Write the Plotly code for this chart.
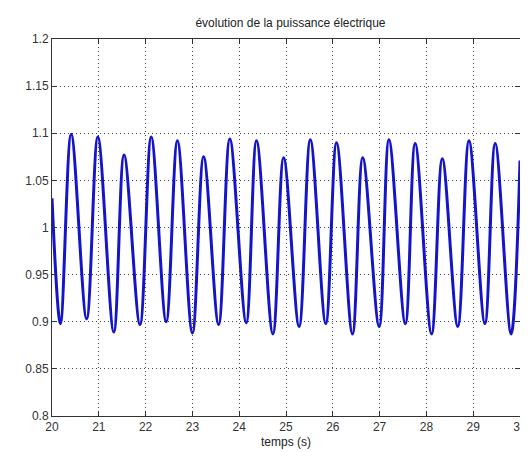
import plotly.graph_objects as go

# Key points (time in s, electrical power p.u.)
temps = [20.00, 20.18, 20.41, 20.74, 20.98, 21.32, 21.54, 21.88, 22.12, 22.44,
         22.68, 23.00, 23.24, 23.56, 23.80, 24.15, 24.37, 24.72, 24.95, 25.28,
         25.52, 25.85, 26.08, 26.42, 26.64, 26.99, 27.20, 27.55, 27.76, 28.11,
         28.34, 28.67, 28.91, 29.25, 29.47, 29.81, 30.00]
puissance = [1.031, 0.898, 1.099, 0.903, 1.096, 0.889, 1.077, 0.897, 1.096, 0.900,
             1.092, 0.888, 1.075, 0.897, 1.094, 0.899, 1.092, 0.887, 1.074, 0.895,
             1.093, 0.898, 1.090, 0.887, 1.074, 0.895, 1.093, 0.898, 1.089, 0.887,
             1.073, 0.895, 1.092, 0.898, 1.089, 0.887, 1.071]

x_ticks = [20, 21, 22, 23, 24, 25, 26, 27, 28, 29, 30]
y_ticks = [0.8, 0.85, 0.9, 0.95, 1.0, 1.05, 1.1, 1.15, 1.2]
y_tick_labels = ["0.8", "0.85", "0.9", "0.95", "1", "1.05", "1.1", "1.15", "1.2"]

font = "Liberation Sans, Arial, sans-serif"

fig = go.Figure()
fig.add_trace(go.Scatter(
    x=temps, y=puissance, mode="lines",
    line=dict(color="#1414c8", width=3, shape="spline", smoothing=1.0),
    showlegend=False, hoverinfo="skip",
))

axis_common = dict(
    showline=True, linecolor="#333333", linewidth=1, mirror="ticks",
    ticks="inside", ticklen=5, tickcolor="#333333",
    showgrid=True, gridcolor="#444444", griddash="1px,3px", gridwidth=1,
    zeroline=False, tickfont=dict(family=font, size=12, color="#333333"),
)

fig.update_xaxes(range=[20, 30], tickvals=x_ticks, **axis_common,
                 title=dict(text="temps (s)", font=dict(family=font, size=12, color="#222222"), standoff=4))
fig.update_yaxes(range=[0.8, 1.2], tickvals=y_ticks, ticktext=y_tick_labels, **axis_common)

fig.update_layout(
    width=528, height=453,
    margin=dict(l=44, r=9, t=31, b=45, pad=0),
    paper_bgcolor="white", plot_bgcolor="white",
    title=dict(text="évolution de la puissance électrique", x=0.535, xanchor="center",
               y=1 - 15 / 453, yanchor="middle",
               font=dict(family=font, size=12, color="#222222")),
)

fig.write_html("out.html")
